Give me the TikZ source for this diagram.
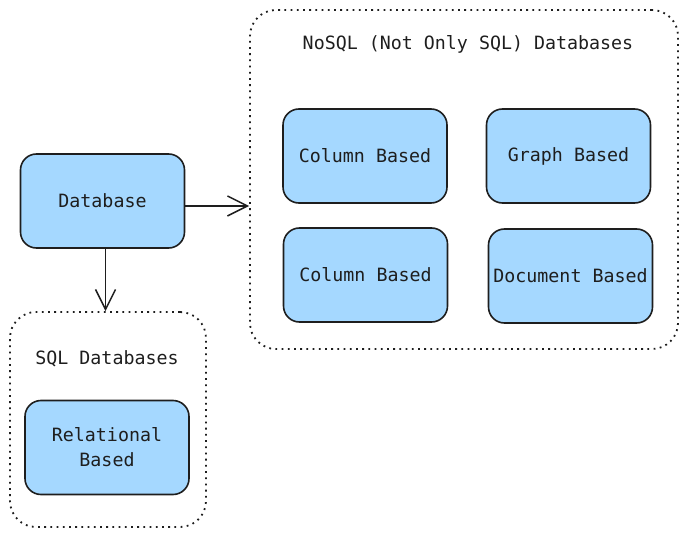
\documentclass[tikz,border=0pt]{standalone}
\usepackage{fontspec}
\setmonofont{DejaVu Sans Mono}
\usetikzlibrary{arrows.meta}
\definecolor{fillblue}{HTML}{A5D8FF}
\definecolor{ink}{HTML}{1E1E1E}
\tikzset{
  box/.style={draw=ink, fill=fillblue, line width=1.6pt, rounded corners=16pt,
    minimum width=164pt, minimum height=94pt, inner sep=0pt, align=center,
    font=\ttfamily\fontsize{18.3}{25}\selectfont, text=ink},
  group/.style={draw=ink, line width=1.8pt, dash pattern=on 1.8pt off 4.4pt,
    rounded corners=26pt, inner sep=0pt},
  title/.style={font=\ttfamily\fontsize{18.3}{25}\selectfont, text=ink, inner sep=0pt},
  link/.style={draw=ink, line width=1.5pt, -{Straight Barb[length=20pt,width=20pt,line width=1.5pt]}}
}
\begin{document}
\begin{tikzpicture}[x=1pt,y=-1pt]
\useasboundingbox (0,0) rectangle (687,537);
% containers
\node[group, minimum width=428pt, minimum height=339pt] (nosql) at (464,179.5) {};
\node[group, minimum width=196pt, minimum height=215pt] (sql) at (108,419.5) {};
\node[title] (nosqlt) at (468,44) {NoSQL (Not Only SQL) Databases};
\node[title] (sqlt) at (107,359) {SQL Databases};
% boxes
\node[box] (db) at (102.5,201) {Database};
\node[box] (col1) at (365,156) {Column Based};
\node[box] (graph) at (568.5,156) {Graph Based};
\node[box] (col2) at (365.5,275) {Column Based};
\node[box] (doc) at (570.5,276) {Document Based};
\node[box] (rel) at (107,447.5) {Relational\\Based};
% connectors
\draw[link] ([yshift=-5pt]db.east) -- ([yshift=-5pt]nosql.west |- db.east);
\draw[link] ([xshift=3pt]db.south) -- ([xshift=3pt]sql.north -| db.south);
\end{tikzpicture}
\end{document}
